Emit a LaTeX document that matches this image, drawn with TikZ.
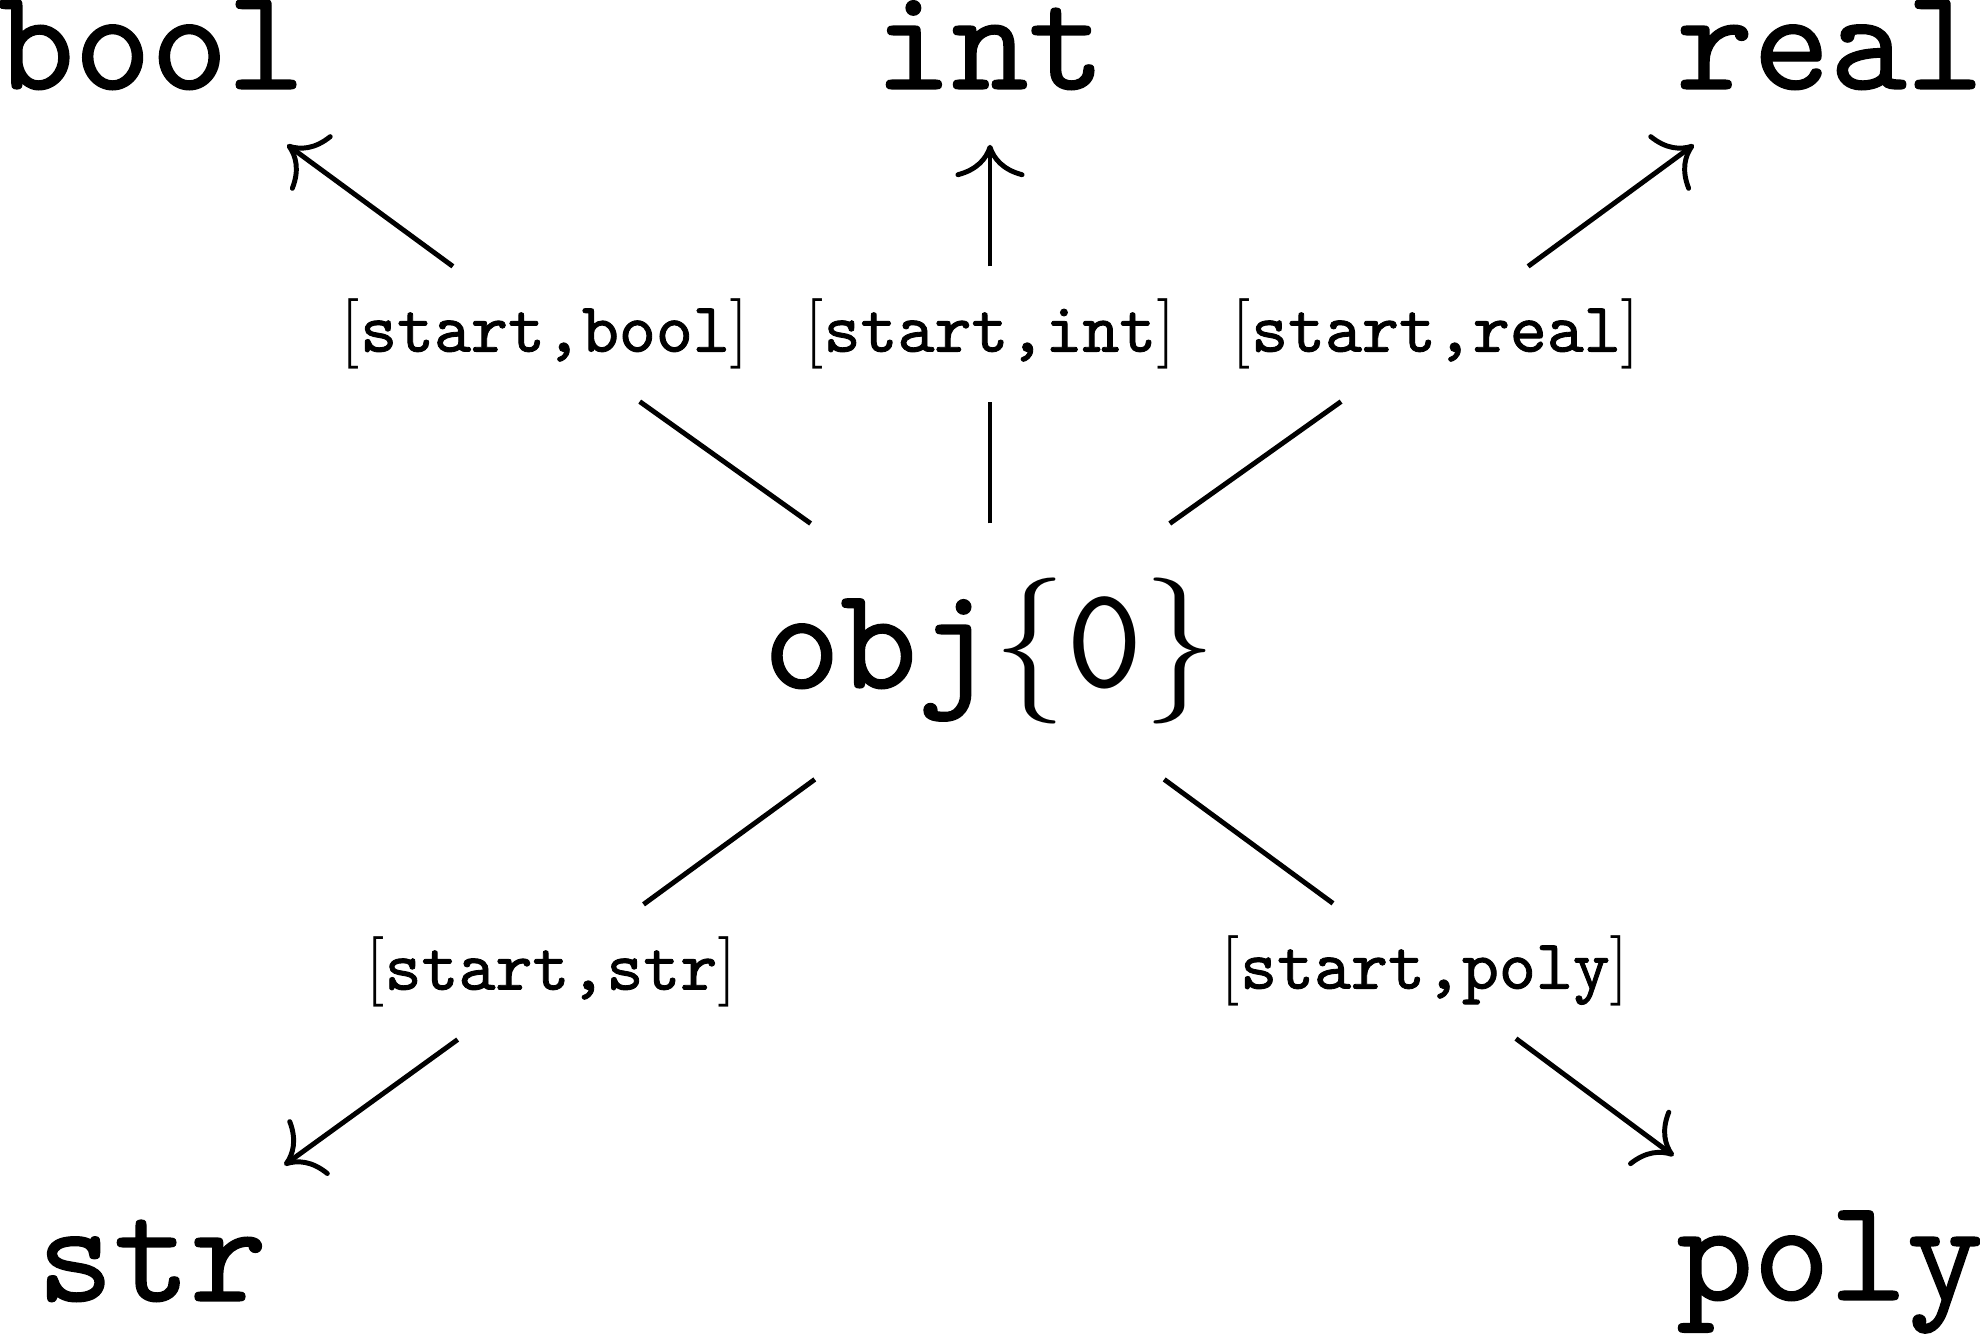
\documentclass[tikz,border=0pt]{standalone}
\usepackage{fontspec}
\usetikzlibrary{arrows.meta}
\newfontfamily\heavytt{lmmono10-regular.otf}[FakeBold=0.9]
\newfontfamily\labtt{lmmono10-regular.otf}[FakeBold=1.2]
\newfontfamily\plaintt{lmmono10-regular.otf}
\newcommand\lbltext[1]{$[$\labtt #1$]$}
\begin{document}
\begin{tikzpicture}[x=0.142pt,y=-0.142pt,
  big/.style={font=\fontsize{20.74}{24}\heavytt, inner sep=7.6pt, outer sep=0.2pt, anchor=base},
  lab/.style={font=\fontsize{10}{12}\selectfont, inner sep=4.4pt, outer sep=0.2pt},
  edge/.style={line width=0.7pt},
  arr/.style={-{Computer Modern Rightarrow[length=4.6pt,width=9.8pt]}}]
\useasboundingbox (0,0) rectangle (1980,1338);
\node[big] (bool) at (151,89) {bool};
\node[big] (int) at (990,89) {int};
\node[big] (real) at (1830,89) {real};
\node[big] (obj) at (990,688) {obj$\{\hbox{\plaintt 0}\}$};
\node[big] (str) at (152,1301) {str};
\node[big] (poly) at (1830,1300) {poly};
\node[lab] (lbool) at (545,334) {\lbltext{start,bool}};
\node[lab] (lint) at (990,334) {\lbltext{start,int}};
\node[lab] (lreal) at (1436,334) {\lbltext{start,real}};
\node[lab] (lstr) at (551,972) {\lbltext{start,str}};
\node[lab] (lpoly) at (1425,971) {\lbltext{start,poly}};
\draw[edge] (obj) -- (lbool);
\draw[edge,arr] (lbool) -- (bool);
\draw[edge] (obj) -- (lint);
\draw[edge,arr] (lint) -- (int);
\draw[edge] (obj) -- (lreal);
\draw[edge,arr] (lreal) -- (real);
\draw[edge] (obj) -- (lstr);
\draw[edge,arr] (lstr) -- (str);
\draw[edge] (obj) -- (lpoly);
\draw[edge,arr] (lpoly) -- (poly);
\end{tikzpicture}
\end{document}
